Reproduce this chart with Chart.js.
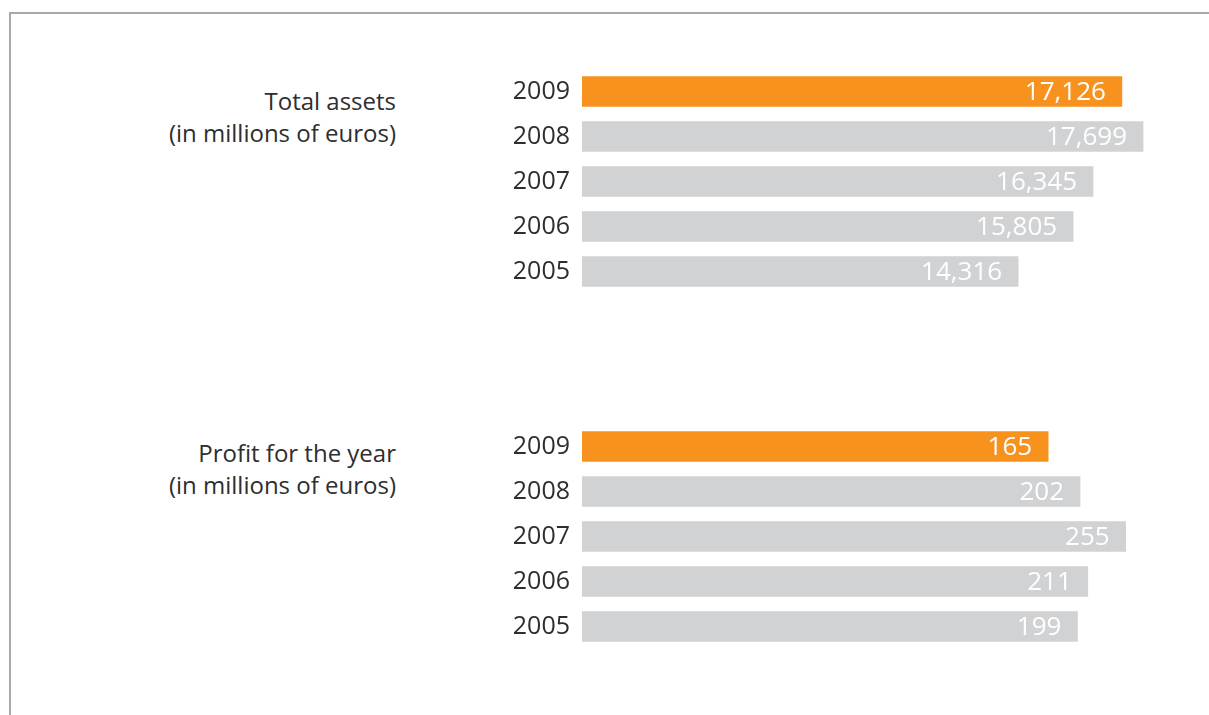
<!DOCTYPE html>
<html>
<head>
<meta charset="utf-8">
<script src="https://cdn.jsdelivr.net/npm/chart.js@4.4.0/dist/chart.umd.min.js"></script>
<style>
  html, body { margin: 0; padding: 0; background: #fff; }
  body { width: 1209px; height: 715px; position: relative; overflow: hidden; font-family: "Open Sans", sans-serif; }
  .frame { position: absolute; left: 9px; top: 12px; right: -5px; bottom: -5px;
           border-top: 2px solid #a9a9a9; border-left: 2px solid #a9a9a9; }
  .title { position: absolute; right: 813px; text-align: right; color: #2e2e2e;
           font-size: 24px; line-height: 32px; white-space: nowrap; }
  .wrap { position: absolute; left: 0; width: 1180px; height: 225px; }
</style>
</head>
<body>
<div class="frame"></div>
<div class="title" style="top:85px">Total assets<br>(in millions of euros)</div>
<div class="title" style="top:437px">Profit for the year<br>(in millions of euros)</div>
<div class="wrap" style="top:69px"><canvas id="assetsChart"></canvas></div>
<div class="wrap" style="top:424px"><canvas id="profitChart"></canvas></div>

<script>
// ==== data ====
const years = ["2009", "2008", "2007", "2006", "2005"];
const totalAssets = [17126, 17699, 16345, 15805, 14316];
const profitForYear = [165, 202, 255, 211, 199];

const ORANGE = "#f7921e";
const GREY = "#d1d2d4";

// value labels drawn inside the bar end
const valueLabels = {
  id: "valueLabels",
  afterDatasetsDraw(chart) {
    const ctx = chart.ctx;
    const meta = chart.getDatasetMeta(0);
    const data = chart.data.datasets[0].data;
    ctx.save();
    ctx.fillStyle = "#ffffff";
    ctx.font = "26px 'Open Sans'";
    ctx.textAlign = "right";
    ctx.textBaseline = "middle";
    meta.data.forEach((bar, i) => {
      ctx.fillText(data[i].toLocaleString("en-US"), bar.x - 16, bar.y + 1);
    });
    ctx.restore();
  }
};

function makeChart(id, values, min, max) {
  const ctx = document.getElementById(id).getContext("2d");
  return new Chart(ctx, {
    type: "bar",
    data: {
      labels: years,
      datasets: [{
        data: values,
        base: min,
        backgroundColor: values.map((v, i) => i === 0 ? ORANGE : GREY),
        borderWidth: 0,
        barThickness: 30
      }]
    },
    options: {
      indexAxis: "y",
      responsive: true,
      maintainAspectRatio: false,
      animation: false,
      layout: { padding: 0 },
      plugins: { legend: { display: false }, tooltip: { enabled: false } },
      scales: {
        x: { display: false, min: min, max: max },
        y: {
          grid: { display: false, drawTicks: false },
          border: { display: false },
          ticks: { color: "#2e2e2e", font: { family: "Open Sans", size: 25 }, padding: 12 },
          afterFit: s => { s.width = 582; s.paddingTop = 0; s.paddingBottom = 0; }
        }
      }
    },
    plugins: [valueLabels]
  });
}

makeChart("assetsChart", totalAssets, 2500, 18700);
makeChart("profitChart", profitForYear, -376, 318);
</script>
</body>
</html>
